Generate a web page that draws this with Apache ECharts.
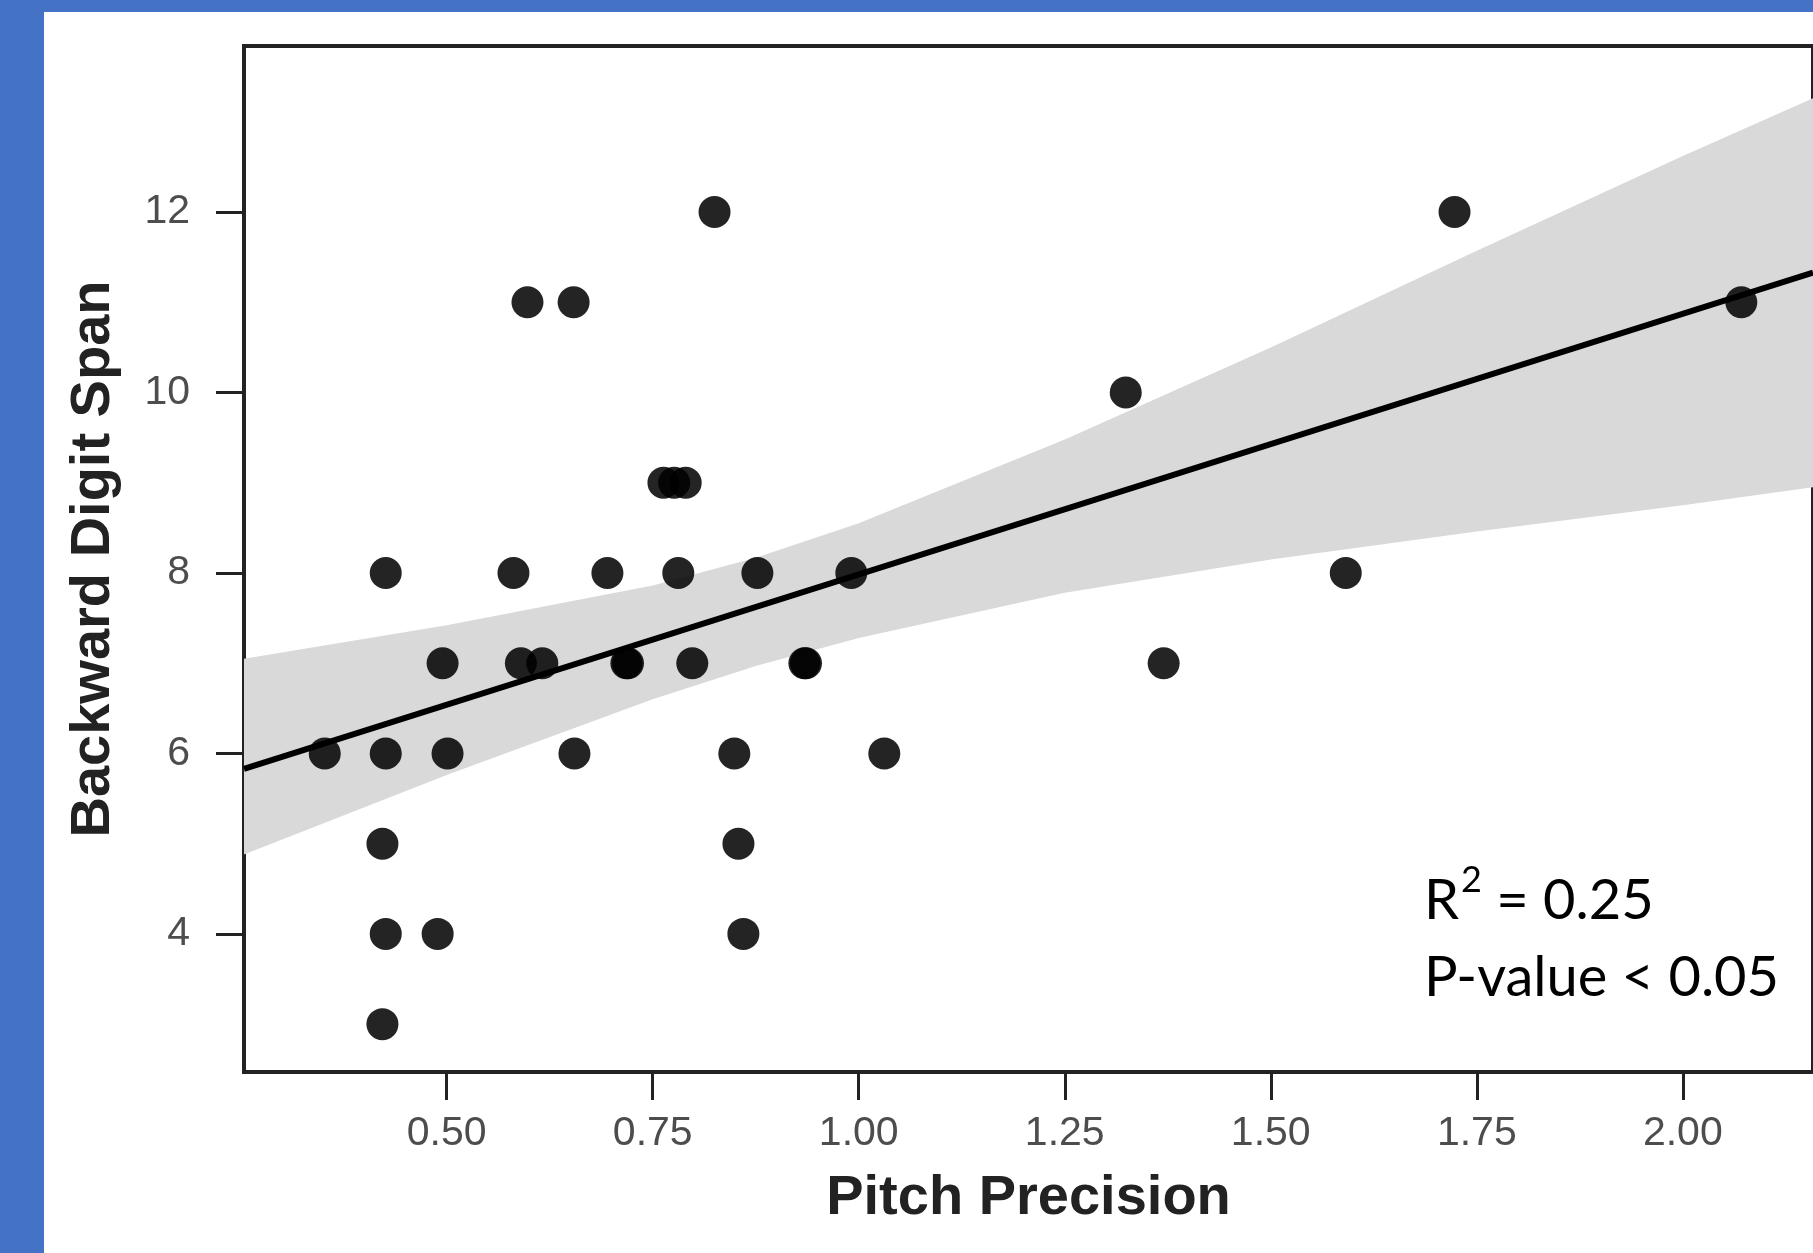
<!DOCTYPE html>
<html>
<head>
<meta charset="utf-8">
<title>Backward Digit Span vs Pitch Precision</title>
<script src="https://cdn.jsdelivr.net/npm/echarts@6/dist/echarts.min.js"></script>
<style>
  body { margin: 0; background: #fff; }
  #main { width: 1813px; height: 1253px; }
</style>
</head>
<body>
<div id="main"></div>
<script>
// points (x = pitch precision, y = backward digit span)
var pitchPrecision = [
  0.422,
  0.426, 0.489, 0.860,
  0.422, 0.854,
  0.352, 0.426, 0.501, 0.655, 0.849, 1.031,
  0.495, 0.590, 0.616, 0.718, 0.720, 0.798, 0.934, 0.936, 1.370,
  0.426, 0.581, 0.695, 0.781, 0.877, 0.991, 1.591,
  0.763, 0.776, 0.790,
  1.324,
  0.598, 0.654, 2.071,
  0.825, 1.723
];
var digitSpan = [
  3,
  4, 4, 4,
  5, 5,
  6, 6, 6, 6, 6, 6,
  7, 7, 7, 7, 7, 7, 7, 7, 7,
  8, 8, 8, 8, 8, 8, 8,
  9, 9, 9,
  10,
  11, 11, 11,
  12, 12
];

// fitted line ends and the grey band edges
var fitX = [0.254, 2.158];
var fitY = [5.83, 11.33];
var bandX     = [0.254, 0.5,  0.75, 0.875, 1.0,  1.25, 1.5,   1.75,  2.0,   2.158];
var bandUpper = [7.05,  7.42, 7.86, 8.17,  8.55, 9.48, 10.50, 11.57, 12.62, 13.26];
var bandLower = [4.88,  5.76, 6.60, 6.97,  7.28, 7.78, 8.15,  8.46,  8.75,  8.95];

var xTicks = [0.5, 0.75, 1.0, 1.25, 1.5, 1.75, 2.0];
var yTicks = [4, 6, 8, 10, 12];

var points = pitchPrecision.map(function (x, i) { return [x, digitSpan[i]]; });
var fitLine = fitX.map(function (x, i) { return [x, fitY[i]]; });

var chart = echarts.init(document.getElementById('main'));

var tickFont = {
  color: '#4d4d4d',
  fontFamily: 'Liberation Sans, Arial, sans-serif',
  fontSize: 41
};
var titleFont = {
  color: '#222',
  fontFamily: 'Liberation Sans, Arial, sans-serif',
  fontWeight: 'bold',
  fontSize: 56
};

chart.setOption({
  backgroundColor: '#fff',
  animation: false,
  grid: {
    left: 244, top: 46, right: -7, bottom: 181,
    show: true, borderColor: '#222', borderWidth: 4
  },
  xAxis: {
    type: 'value',
    min: 0.254, max: 2.158,
    name: 'Pitch Precision',
    nameLocation: 'middle',
    nameGap: 99,
    nameTextStyle: titleFont,
    axisLine: { show: true, lineStyle: { color: '#222', width: 4 } },
    axisTick: { show: true, customValues: xTicks, length: 28, lineStyle: { color: '#222', width: 3 } },
    axisLabel: Object.assign({ customValues: xTicks, margin: 41, formatter: function (v) { return v.toFixed(2); } }, tickFont),
    splitLine: { show: false }
  },
  yAxis: {
    type: 'value',
    min: 2.47, max: 13.84,
    name: 'Backward Digit Span',
    nameLocation: 'middle',
    nameGap: 122,
    nameTextStyle: titleFont,
    axisLine: { show: true, lineStyle: { color: '#222', width: 4 } },
    axisTick: { show: true, customValues: yTicks, length: 28, lineStyle: { color: '#222', width: 3 } },
    axisLabel: Object.assign({ customValues: yTicks, margin: 54 }, tickFont),
    splitLine: { show: false }
  },
  graphic: [
    { type: 'rect', shape: { x: 0, y: 0, width: 44, height: 1253 }, style: { fill: '#4472c4' } },
    { type: 'rect', shape: { x: 0, y: 0, width: 1813, height: 12 }, style: { fill: '#4472c4' } },
    {
      type: 'text', x: 1424, y: 862, z: 10,
      style: {
        text: '{r|R}{s|2}{r| = 0.25}\n{r|P-value < 0.05}',
        align: 'left', verticalAlign: 'top',
        fill: '#000',
        rich: {
          r: { fontFamily: 'Lato, sans-serif', fontSize: 56, lineHeight: 77, fill: '#000' },
          s: { fontFamily: 'Lato, sans-serif', fontSize: 36, lineHeight: 60, verticalAlign: 'top', fill: '#000', padding: [0, 0, 0, 2] }
        }
      }
    }
  ],
  series: [
    {
      type: 'custom',
      silent: true,
      clip: true,
      z: 1,
      data: [[bandX[0], bandUpper[0]]],
      renderItem: function (params, api) {
        var pts = [];
        for (var i = 0; i < bandX.length; i++) pts.push(api.coord([bandX[i], bandUpper[i]]));
        for (var j = bandX.length - 1; j >= 0; j--) pts.push(api.coord([bandX[j], bandLower[j]]));
        return { type: 'polygon', shape: { points: pts }, style: { fill: '#d9d9d9' } };
      }
    },
    {
      type: 'scatter',
      z: 2,
      symbolSize: 32,
      itemStyle: { color: 'rgba(0,0,0,0.86)', opacity: 1 },
      data: points
    },
    {
      type: 'line',
      z: 3,
      symbol: 'none',
      lineStyle: { color: '#000', width: 6 },
      data: fitLine
    }
  ]
});
</script>
</body>
</html>
